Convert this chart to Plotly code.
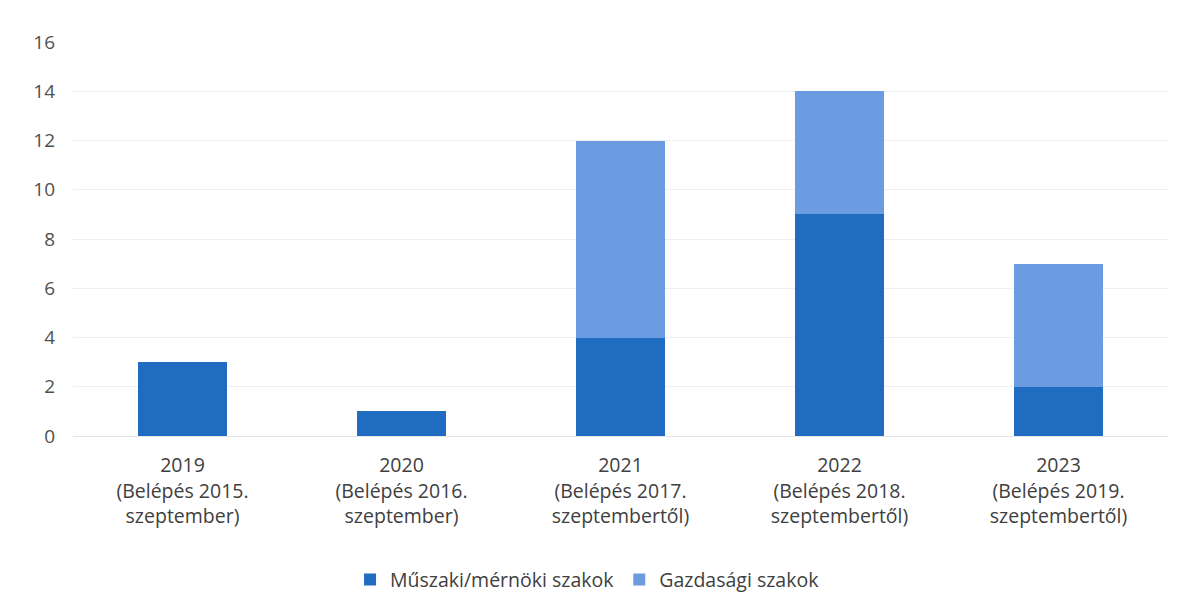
import plotly.graph_objects as go

categories = [
    "2019<br>(Belépés 2015.<br>szeptember)",
    "2020<br>(Belépés 2016.<br>szeptember)",
    "2021<br>(Belépés 2017.<br>szeptembertől)",
    "2022<br>(Belépés 2018.<br>szeptembertől)",
    "2023<br>(Belépés 2019.<br>szeptembertől)",
]
muszaki = [3, 1, 4, 9, 2]
gazdasagi = [0, 0, 8, 5, 5]
y_ticks = [0, 2, 4, 6, 8, 10, 12, 14, 16]

fig = go.Figure()
fig.add_trace(go.Bar(x=categories, y=muszaki, name="Műszaki/mérnöki szakok",
                     marker=dict(color="#1F6CC1", line=dict(width=0))))
fig.add_trace(go.Bar(x=categories, y=gazdasagi, name="Gazdasági szakok",
                     marker=dict(color="#6B9BE1", line=dict(width=0))))

fig.update_layout(
    barmode="stack",
    bargap=0.593,
    width=1186, height=612,
    margin=dict(l=65, r=26, t=34, b=184),
    paper_bgcolor="white", plot_bgcolor="white",
    font=dict(family="Open Sans, Noto Sans, sans-serif", size=19, color="#404040"),
    xaxis=dict(showgrid=False, showline=True, linecolor="#e6e6e6", ticks="",
               tickfont=dict(size=19.5, color="#404040"), ticklabelstandoff=12),
    yaxis=dict(range=[0, 16], tickvals=y_ticks, showgrid=True, gridcolor="#efefef",
               zeroline=False, ticks="", tickfont=dict(size=19, color="#505050"),
               ticklabelstandoff=17),
    legend=dict(orientation="h", x=0.253, xanchor="left", y=-0.365, yanchor="middle",
                font=dict(size=19.5, color="#404040"), traceorder="normal",
                itemwidth=30),
)

fig.write_html("out.html")
